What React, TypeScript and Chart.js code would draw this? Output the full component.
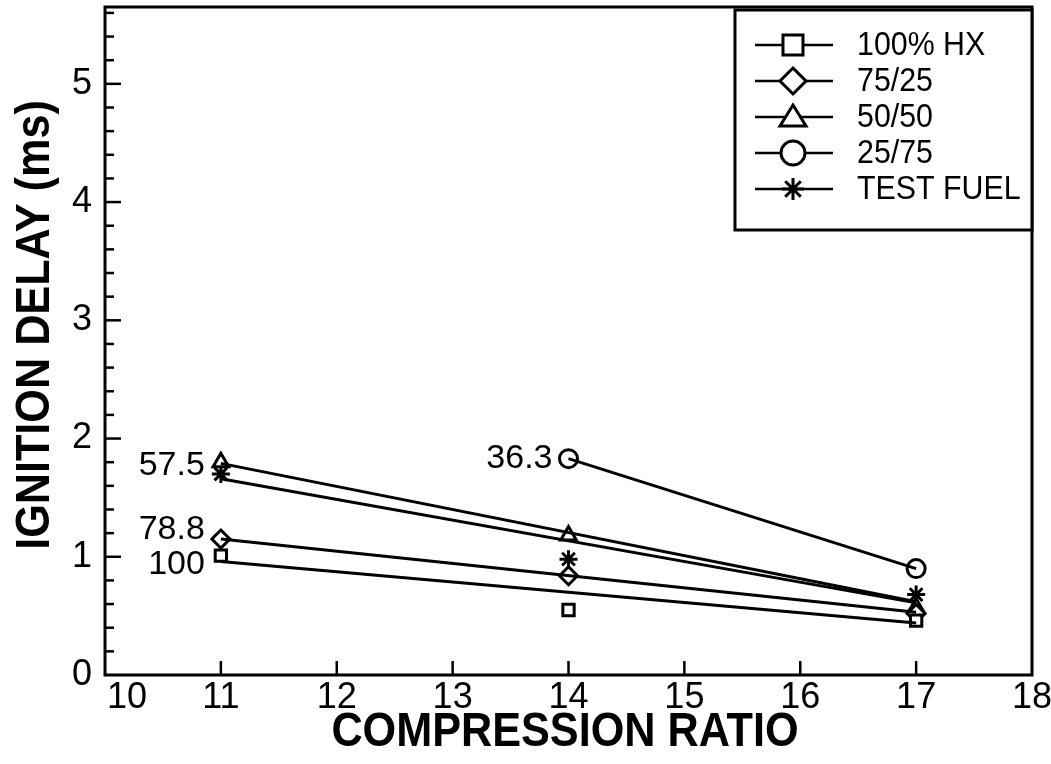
import React, { useEffect, useRef } from "react";
import { Chart, registerables } from "chart.js";

Chart.register(...registerables);

// ---- data ----
const xTickValues = [10, 11, 12, 13, 14, 15, 16, 17, 18];
const yTickValues = [0, 1, 2, 3, 4, 5];

const seriesNames = ["100% HX", "75/25", "50/50", "25/75", "TEST FUEL"];
const seriesStyles = ["rect", "rectRot", "triangle", "circle", "star"];

// measured points
const hxX = [11, 14, 17];
const hxY = [1.01, 0.55, 0.46];
const b7525X = [11, 14, 17];
const b7525Y = [1.15, 0.84, 0.52];
const b5050X = [11, 14, 17];
const b5050Y = [1.80, 1.18, 0.57];
const b2575X = [14, 17];
const b2575Y = [1.83, 0.90];
const testX = [11, 14, 17];
const testY = [1.70, 0.98, 0.68];

// fitted lines (end points)
const hxFitX = [11, 17];
const hxFitY = [0.96, 0.44];
const b7525FitX = [11, 17];
const b7525FitY = [1.15, 0.53];
const b5050FitX = [11, 17];
const b5050FitY = [1.79, 0.62];
const b2575FitX = [14, 17];
const b2575FitY = [1.83, 0.90];
const testFitX = [11, 17];
const testFitY = [1.66, 0.61];

// cetane-number annotations
const noteText = ["57.5", "78.8", "100", "36.3"];
const noteX = [11, 11, 11, 14];
const noteY = [1.77, 1.23, 0.93, 1.83];

const X_MIN = 10;
const X_MAX = 18;
const Y_MIN = 0;
const Y_MAX = 5.65;

const FONT = "'Liberation Sans', Arial, sans-serif";

const pts = (xs: number[], ys: number[]) => xs.map((x, i) => ({ x, y: ys[i] }));

const pointSets = [
  pts(hxX, hxY),
  pts(b7525X, b7525Y),
  pts(b5050X, b5050Y),
  pts(b2575X, b2575Y),
  pts(testX, testY),
];
const fitSets = [
  pts(hxFitX, hxFitY),
  pts(b7525FitX, b7525FitY),
  pts(b5050FitX, b5050FitY),
  pts(b2575FitX, b2575FitY),
  pts(testFitX, testFitY),
];

function drawMarker(ctx: CanvasRenderingContext2D, style: string, x: number, y: number, r: number) {
  ctx.save();
  ctx.strokeStyle = "#000";
  ctx.fillStyle = "#fff";
  ctx.lineWidth = 3;
  ctx.beginPath();
  if (style === "rect") {
    ctx.rect(x - r, y - r, 2 * r, 2 * r);
    ctx.fill();
    ctx.stroke();
  } else if (style === "rectRot") {
    ctx.moveTo(x, y - r * 1.3);
    ctx.lineTo(x + r * 1.3, y);
    ctx.lineTo(x, y + r * 1.3);
    ctx.lineTo(x - r * 1.3, y);
    ctx.closePath();
    ctx.fill();
    ctx.stroke();
  } else if (style === "triangle") {
    ctx.moveTo(x, y - r * 1.2);
    ctx.lineTo(x + r * 1.3, y + r * 0.9);
    ctx.lineTo(x - r * 1.3, y + r * 0.9);
    ctx.closePath();
    ctx.fill();
    ctx.stroke();
  } else if (style === "circle") {
    ctx.arc(x, y, r * 1.2, 0, Math.PI * 2);
    ctx.fill();
    ctx.stroke();
  } else {
    for (let k = 0; k < 4; k++) {
      const a = (k * Math.PI) / 4;
      ctx.moveTo(x - Math.cos(a) * r * 1.1, y - Math.sin(a) * r * 1.1);
      ctx.lineTo(x + Math.cos(a) * r * 1.1, y + Math.sin(a) * r * 1.1);
    }
    ctx.stroke();
  }
  ctx.restore();
}

function condensedText(ctx: CanvasRenderingContext2D, text: string, x: number, y: number, sx: number, rot: number) {
  ctx.save();
  ctx.translate(x, y);
  ctx.rotate(rot);
  ctx.scale(sx, 1);
  ctx.fillText(text, 0, 0);
  ctx.restore();
}

const framePlugin = {
  id: "framePlugin",
  afterDraw(chart: any) {
    const ctx: CanvasRenderingContext2D = chart.ctx;
    const { left, right, top, bottom } = chart.chartArea;
    const xs = chart.scales.x;
    const ys = chart.scales.y;
    ctx.save();
    ctx.strokeStyle = "#000";
    ctx.lineCap = "butt";
    // frame
    ctx.lineWidth = 3;
    ctx.strokeRect(left, top, right - left, bottom - top);
    // x ticks inward
    ctx.lineWidth = 2.5;
    xTickValues.forEach((v) => {
      if (v === X_MIN || v === X_MAX) return;
      const px = xs.getPixelForValue(v);
      ctx.beginPath();
      ctx.moveTo(px, bottom);
      ctx.lineTo(px, bottom - 14);
      ctx.stroke();
    });
    // y ticks: major + minor (0.2)
    for (let i = 1; i * 0.2 <= Y_MAX + 1e-9; i++) {
      const v = i * 0.2;
      const py = ys.getPixelForValue(v);
      const major = i % 5 === 0;
      ctx.beginPath();
      ctx.moveTo(left, py);
      ctx.lineTo(left + (major ? 16 : 9), py);
      ctx.stroke();
    }
    // tick labels
    ctx.fillStyle = "#000";
    ctx.font = `36px ${FONT}`;
    ctx.textBaseline = "middle";
    xTickValues.forEach((v, i) => {
      const px = xs.getPixelForValue(v);
      if (i === 0) {
        ctx.textAlign = "left";
        condensedText(ctx, String(v), px + 2, 698, 1, 0);
      } else {
        ctx.textAlign = "center";
        condensedText(ctx, String(v), px, 698, 1, 0);
      }
    });
    ctx.textAlign = "right";
    yTickValues.forEach((v) => {
      condensedText(ctx, String(v), left - 13, ys.getPixelForValue(v), 1, 0);
    });
    // annotations
    ctx.font = `34px ${FONT}`;
    ctx.textAlign = "right";
    ctx.textBaseline = "middle";
    noteText.forEach((t, i) => {
      const px = xs.getPixelForValue(noteX[i]);
      const py = ys.getPixelForValue(noteY[i]);
      ctx.fillText(t, px - 16, py);
    });
    // legend
    const lx0 = 735, ly0 = 10, lx1 = right, ly1 = 230;
    ctx.fillStyle = "#fff";
    ctx.fillRect(lx0, ly0, lx1 - lx0, ly1 - ly0);
    ctx.lineWidth = 3;
    ctx.strokeRect(lx0, ly0, lx1 - lx0, ly1 - ly0);
    const rowY = [45, 81, 117, 153, 189];
    seriesNames.forEach((name, i) => {
      const y = rowY[i];
      ctx.lineWidth = 2.5;
      ctx.beginPath();
      ctx.moveTo(755, y);
      ctx.lineTo(833, y);
      ctx.stroke();
      drawMarker(ctx, seriesStyles[i], 793, y, 10);
      ctx.fillStyle = "#000";
      ctx.font = `33px ${FONT}`;
      ctx.textAlign = "left";
      ctx.textBaseline = "middle";
      condensedText(ctx, name, 857, y + 1, 0.92, 0);
    });
    // axis titles
    ctx.fillStyle = "#000";
    ctx.font = `bold 48px ${FONT}`;
    ctx.textAlign = "center";
    ctx.textBaseline = "middle";
    condensedText(ctx, "COMPRESSION RATIO", 565, 733, 0.9, 0);
    condensedText(ctx, "IGNITION DELAY (ms)", 36, 325, 0.9, -Math.PI / 2);
    ctx.restore();
  },
};

export default function App() {
  const ref = useRef<HTMLCanvasElement | null>(null);
  useEffect(() => {
    if (!ref.current) return;
    const datasets: any[] = [];
    fitSets.forEach((d, i) => {
      datasets.push({
        label: seriesNames[i] + " fit",
        data: d,
        showLine: true,
        borderColor: "#000",
        borderWidth: 3,
        pointRadius: 0,
        fill: false,
      });
    });
    pointSets.forEach((d, i) => {
      datasets.push({
        label: seriesNames[i],
        data: d,
        showLine: false,
        pointStyle: seriesStyles[i],
        pointRadius: seriesStyles[i] === "rect" ? 8 : 9,
        pointBorderWidth: 3,
        pointBackgroundColor: "#fff",
        pointBorderColor: "#000",
        borderColor: "#000",
      });
    });
    const chart = new Chart(ref.current, {
      type: "scatter",
      data: { datasets },
      plugins: [framePlugin],
      options: {
        animation: false,
        responsive: true,
        maintainAspectRatio: false,
        layout: { autoPadding: false, padding: { top: 7, right: 19, left: 0, bottom: 0 } },
        plugins: { legend: { display: false }, tooltip: { enabled: false } },
        scales: {
          x: {
            type: "linear",
            min: X_MIN,
            max: X_MAX,
            grid: { display: false, drawTicks: false },
            border: { display: false },
            afterBuildTicks: (s: any) => {
              s.ticks = xTickValues.map((v) => ({ value: v }));
            },
            afterFit: (s: any) => {
              s.height = 89;
              s.paddingLeft = 0;
              s.paddingRight = 0;
            },
            ticks: { display: false },
          },
          y: {
            type: "linear",
            min: Y_MIN,
            max: Y_MAX,
            grid: { display: false, drawTicks: false },
            border: { display: false },
            afterBuildTicks: (s: any) => {
              s.ticks = yTickValues.map((v) => ({ value: v }));
            },
            afterFit: (s: any) => {
              s.width = 105;
              s.paddingTop = 0;
              s.paddingBottom = 0;
            },
            ticks: { display: false },
          },
        },
      },
    });
    return () => chart.destroy();
  }, []);
  return (
    <div style={{ position: "fixed", left: 0, top: 0, width: 1051, height: 764, background: "#fff" }}>
      <canvas ref={ref} />
    </div>
  );
}
